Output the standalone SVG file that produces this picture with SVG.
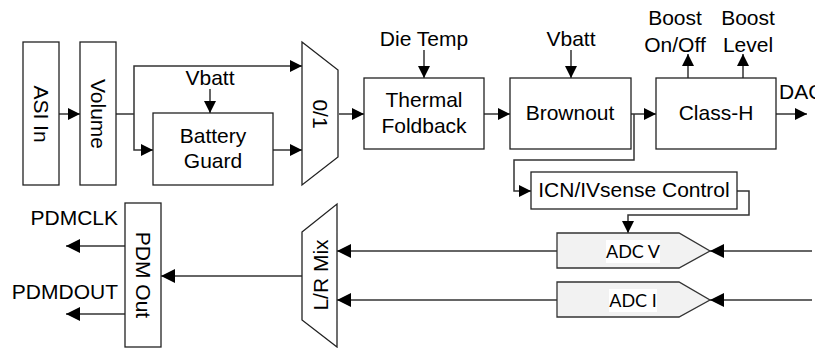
<svg xmlns="http://www.w3.org/2000/svg" width="815" height="348" viewBox="0 0 815 348">
<defs>
<marker id="ah" markerUnits="userSpaceOnUse" markerWidth="12" markerHeight="12" viewBox="0 0 12 12" refX="12" refY="6" orient="auto">
<path d="M0,0 L12,6 L0,12 z" fill="#000"/>
</marker>
<marker id="ahl" markerUnits="userSpaceOnUse" markerWidth="14" markerHeight="14" viewBox="0 0 14 14" refX="14" refY="7" orient="auto">
<path d="M0,0 L14,7 L0,14 z" fill="#000"/>
</marker>
<style>
.box{fill:#fff;stroke:#222;stroke-width:1.3}
.adc{fill:#f2f2f2;stroke:#333;stroke-width:1.3}
.ln{fill:none;stroke:#333;stroke-width:1.5}
.arr{marker-end:url(#ah)}
.arrl{marker-end:url(#ahl)}
text{font-family:"Liberation Sans",Arial,sans-serif;font-size:21px;fill:#000}
.c{text-anchor:middle}
.r{text-anchor:end}
.adct{font-family:Lato,"Open Sans",sans-serif;font-size:18px;text-anchor:middle}
</style>
</defs>
<rect width="815" height="348" fill="#fff"/>

<g id="connectors">
<path class="ln arr" d="M59,114 H80"/>
<path class="ln" d="M116,114 H134"/>
<path class="ln arr" d="M134,114 V66 H302"/>
<path class="ln arr" d="M134,114 V150 H153"/>
<path class="ln arr" d="M210,89 V113"/>
<path class="ln arr" d="M273,150 H302"/>
<path class="ln arr" d="M339,114 H364"/>
<path class="ln arr" d="M424,50 V78"/>
<path class="ln arr" d="M484,114 H510"/>
<path class="ln arr" d="M571,50 V78"/>
<path class="ln arr" d="M631,114 H656"/>
<path class="ln arr" d="M688,78 V54"/>
<path class="ln arr" d="M743,78 V54"/>
<path class="ln arr" d="M776,114 H807"/>
<path class="ln arr" d="M634,114 V160 H514 V191 H531"/>
<path class="ln arr" d="M737,191 H749 V215 H628 V233"/>
<path class="ln arrl" d="M812,251 H710"/>
<path class="ln arrl" d="M812,300 H710"/>
<path class="ln arrl" d="M557,251 H337"/>
<path class="ln arrl" d="M557,300 H337"/>
<path class="ln arrl" d="M302,276 H161"/>
<path class="ln arrl" d="M125,246 H66"/>
<path class="ln arrl" d="M125,314 H66"/>
</g>

<g id="asi-in">
<rect class="box" x="23" y="42" width="36" height="143"/>
<text class="c" transform="translate(41,114) rotate(90)" y="7.5">ASI In</text>
</g>
<g id="volume">
<rect class="box" x="80" y="42" width="36" height="143"/>
<text class="c" transform="translate(98,114) rotate(90)" y="7.5">Volume</text>
</g>
<g id="vbatt-1">
<text class="c" x="210" y="85">Vbatt</text>
</g>
<g id="battery-guard">
<rect class="box" x="153" y="113" width="120" height="72"/>
<text class="c" x="213" y="143">Battery</text>
<text class="c" x="213" y="168">Guard</text>
</g>
<g id="mux">
<path class="box" d="M302,42 L338,70 L338,157 L302,185 Z"/>
<text class="c" transform="translate(320,114) rotate(90)" y="7.5">0/1</text>
</g>
<g id="die-temp">
<text class="c" x="424" y="46">Die Temp</text>
</g>
<g id="thermal-foldback">
<rect class="box" x="364" y="78" width="120" height="71"/>
<text class="c" x="424" y="107">Thermal</text>
<text class="c" x="424" y="133">Foldback</text>
</g>
<g id="vbatt-2">
<text class="c" x="571" y="46">Vbatt</text>
</g>
<g id="brownout">
<rect class="box" x="510" y="78" width="121" height="71"/>
<text class="c" x="570" y="120">Brownout</text>
</g>
<g id="boost-onoff">
<text class="c" x="675" y="25">Boost</text>
<text class="c" x="675" y="52">On/Off</text>
</g>
<g id="boost-level">
<text class="c" x="748" y="25">Boost</text>
<text class="c" x="748" y="52">Level</text>
</g>
<g id="class-h">
<rect class="box" x="656" y="78" width="120" height="71"/>
<text class="c" x="716" y="120">Class-H</text>
</g>
<g id="dac">
<text x="779" y="99">DAC</text>
</g>
<g id="icn-control">
<rect class="box" x="531" y="172" width="206" height="37"/>
<text class="c" x="634" y="197">ICN/IVsense Control</text>
</g>
<g id="adc-v">
<path class="adc" d="M557,233 H679 L710,251 L679,268 H557 Z"/>
<rect x="606" y="240" width="54" height="23" fill="#fff"/>
<text class="adct" x="633" y="258">ADC V</text>
</g>
<g id="adc-i">
<path class="adc" d="M557,282 H679 L710,300 L679,317 H557 Z"/>
<rect x="609" y="289" width="48" height="23" fill="#fff"/>
<text class="adct" x="633" y="307">ADC I</text>
</g>
<g id="lr-mix">
<path class="box" d="M302,232 L337,204 L337,347 L302,320 Z"/>
<text class="c" transform="translate(320,275) rotate(-90)" y="7.5">L/R Mix</text>
</g>
<g id="pdm-out">
<rect class="box" x="125" y="203" width="36" height="144"/>
<text class="c" transform="translate(143,275) rotate(90)" y="7.5">PDM Out</text>
</g>
<g id="pdmclk">
<text class="r" x="118" y="225">PDMCLK</text>
</g>
<g id="pdmdout">
<text class="r" x="118" y="299">PDMDOUT</text>
</g>
</svg>
